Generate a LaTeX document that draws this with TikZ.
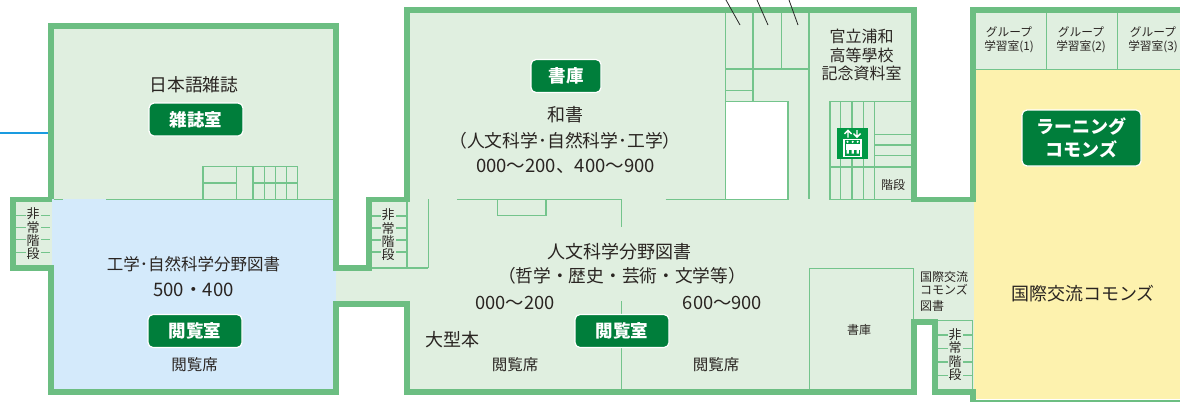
\documentclass[tikz,border=0pt]{standalone}
\usepackage{fontspec}
\setmainfont{Noto Sans CJK JP}
\definecolor{wallc}{HTML}{6CBE82}
\definecolor{linec}{HTML}{74C48C}
\definecolor{roomc}{HTML}{E0EFE0}
\definecolor{bluec}{HTML}{D4EAFB}
\definecolor{yelc}{HTML}{FDF2AE}
\definecolor{badgec}{HTML}{007E3B}
\definecolor{txtc}{HTML}{2A2522}
\definecolor{evc}{HTML}{009944}
\definecolor{routec}{HTML}{1A9BE0}
\newcommand{\fsz}[1]{\fontsize{#1}{#1}\selectfont}
\tikzset{
  wall/.style={fill=wallc},
  thin line/.style={draw=linec,line width=1.35pt},
  lbl/.style={text=txtc,inner sep=0pt,align=center,anchor=center,font=\fsz{16}},
  small/.style={lbl,font=\fsz{12}},
  stairlbl/.style={lbl,font=\fsz{13},fill=roomc,inner xsep=1pt,inner ysep=0pt},
  badge/.style={fill=badgec,draw=white,line width=1.2pt,rounded corners=5pt,inner sep=0pt,anchor=center},
  badgetxt/.style={text=white,inner sep=0pt,align=center,anchor=center,font=\fsz{17.5}\bfseries},
  x=1pt,y=-1pt
}
\begin{document}
\begin{tikzpicture}
\useasboundingbox (0,0) rectangle (1180,402);
\fill[white] (0,0) rectangle (1180,402);
% fills
\fill[roomc] (54,29) rectangle (333,199);
\fill[bluec] (52,199) rectangle (333,389);
\fill[bluec] (333,271) rectangle (336,301);
\fill[roomc] (16,202) rectangle (52,265);
\fill[roomc] (336,271) rectangle (411,301);
\fill[roomc] (372,202) rectangle (411,271);
\fill[roomc] (410,13) rectangle (911,389);
\fill[roomc] (911,202) rectangle (974,319);
\fill[roomc] (937,319) rectangle (974,389);
\fill[roomc] (976,13) rectangle (1180,69);
\fill[yelc] (976,69) rectangle (1180,202);
\fill[yelc] (974,202) rectangle (1180,399);
\fill[white] (726,102) rectangle (788,199);
% route
\draw[routec,line width=2.5pt] (0,133) -- (48,133);
% thin lines: left building
\draw[thin line] (54,199.5) -- (63,199.5) (106,199.5) -- (333,199.5);
\draw[thin line] (203,199.5) -- (203,166.5) -- (297.7,166.5) -- (297.7,199.5);
\draw[thin line] (236.5,166.5) -- (236.5,199.5) (253,166.5) -- (253,199.5) (264.7,166.5) -- (264.7,199.5) (275.7,166.5) -- (275.7,199.5) (286.7,166.5) -- (286.7,199.5);
\draw[thin line] (203,183) -- (236.5,183) (253,183) -- (297.7,183);
\foreach \yy in {215.5,227.5,239.5,252.5} \draw[thin line] (16,\yy) -- (50,\yy);
% thin lines: middle stairs
\foreach \yy in {216,228,240,252} \draw[thin line] (372,\yy) -- (407,\yy);
\draw[thin line] (407,199) -- (407,268) (372,268) -- (428.3,268) (428.3,268) -- (428.3,199);
\draw[thin line] (457.3,199.5) -- (621.7,199.5) -- (621.7,227);
\draw[thin line] (497.3,199.5) -- (497.3,215.7) -- (546,215.7) -- (546,199.5);
\draw[thin line] (665.7,199.5) -- (788,199.5);
\draw[thin line] (621.7,301) -- (621.7,389);
% north-east block
\draw[thin line] (725.5,12) -- (725.5,199.5);
\draw[thin line] (753,12) -- (753,101.5);
\draw[thin line] (781.5,12) -- (781.5,69);
\draw[thin line] (809,12) -- (809,199);
\draw[thin line] (725.5,69) -- (809,69);
\draw[thin line] (725.5,90.5) -- (753,90.5);
\draw[thin line] (725.5,101.5) -- (788,101.5) -- (788,199.5);
% EV stairs
\draw[thin line] (830,199.5) -- (830,101.5) -- (911,101.5);
\draw[thin line] (830,199.5) -- (911,199.5);
\foreach \xx in {840.7,852,863.3,874.7} \draw[thin line] (\xx,101.5) -- (\xx,199.5);
\foreach \yy in {134.5,145,155.5} \draw[thin line] (874.7,\yy) -- (911,\yy);
\draw[thin line] (830,167) -- (911,167);
% stacks room
\draw[thin line] (809.3,389) -- (809.3,268.3) -- (913.3,268.3) -- (913.3,319);
% right stairs
\draw[thin line] (937,320.5) -- (972.7,320.5) -- (972.7,389);
\foreach \yy in {335,348.7,362,375.7} \draw[thin line] (938,\yy) -- (972.7,\yy);
% group rooms
\draw[thin line] (976,69.5) -- (1180,69.5);
\draw[thin line] (1046.7,13) -- (1046.7,69) (1117.7,13) -- (1117.7,69);
% walls
\fill[wall] (48,23) rectangle (339,29);
\fill[wall] (48,23) rectangle (54,199);
\fill[wall] (48,265) rectangle (54,395);
\fill[wall] (48,389) rectangle (339,395);
\fill[wall] (333,23) rectangle (339,271);
\fill[wall] (333,265) rectangle (372,271);
\fill[wall] (333,301) rectangle (339,395);
\fill[wall] (333,301) rectangle (410,307);
\fill[wall] (10,196.5) rectangle (52,202);
\fill[wall] (10,196.5) rectangle (16,271);
\fill[wall] (10,265) rectangle (54,271);
\fill[wall] (366,196.5) rectangle (410,202);
\fill[wall] (366,196.5) rectangle (372,271);
\fill[wall] (404,7) rectangle (410,202);
\fill[wall] (404,7) rectangle (917,13);
\fill[wall] (404,301) rectangle (410,395);
\fill[wall] (404,389) rectangle (917,395);
\fill[wall] (911,7) rectangle (917,202);
\fill[wall] (911,196.5) rectangle (976,202);
\fill[wall] (970,7) rectangle (976,202);
\fill[wall] (970,7) rectangle (1180,13);
\fill[wall] (911,319) rectangle (938,325);
\fill[wall] (911,319) rectangle (917,395);
\fill[wall] (932,319) rectangle (938,395);
\fill[wall] (932,389) rectangle (976,395);
\fill[wall] (970,389) rectangle (976,402);
\fill[wall] (970,399.5) rectangle (1180,402);
% pencil lines
\draw[black!85,line width=.8pt] (726,0) -- (740,25) (757,0) -- (768,25) (789,0) -- (798,25);
% EV icon
\fill[evc] (837,128) rectangle (868,158.7);
\draw[white,line width=1.4pt] (844,139.5) rectangle (861,156.3);
\fill[white] (846,143.5) rectangle (859.5,149.5);
\fill[white] (846.5,149) rectangle (848.8,153.5) (851.5,149) rectangle (853.8,153.5) (856.5,149) rectangle (858.8,153.5);
\fill[white] (847.5,141.8) circle (1.2) (852.7,141.8) circle (1.2) (857.7,141.8) circle (1.2);
\draw[white,line width=1.4pt] (848,137.5) -- (848,131) (844.5,134) -- (848,130.3) -- (851.5,134);
\draw[white,line width=1.4pt] (857,130) -- (857,136.5) (853.5,133.5) -- (857,137.2) -- (860.5,133.5);
% text
\node[lbl,font=\fsz{17.8}] (t1) at (194,85) {日本語雑誌};
\node[badge,minimum width=94pt,minimum height=33pt] (b1) at (196,119.5) {};
\node[badgetxt] (b1t) at (b1.center) {雑誌室};
\node[lbl,font=\fsz{16.5}] (t2) at (193.5,264) {工学･自然科学分野図書};
\node[lbl,font=\fsz{18.6}] (t3) at (193.5,289.5) {500・400};
\node[badge,minimum width=94pt,minimum height=33pt] (b2) at (195,331) {};
\node[badgetxt] (b2t) at (b2.center) {閲覧室};
\node[lbl,font=\fsz{15.5}] (t4) at (194.5,365) {閲覧席};
\node[stairlbl] (s1a) at (33,214) {非};
\node[stairlbl] (s1b) at (33,227.3) {常};
\node[stairlbl] (s1c) at (33,240.7) {階};
\node[stairlbl] (s1d) at (33,254) {段};
\node[stairlbl] (s2a) at (388,215) {非};
\node[stairlbl] (s2b) at (388,228.3) {常};
\node[stairlbl] (s2c) at (388,241.7) {階};
\node[stairlbl] (s2d) at (388,255) {段};
\node[stairlbl] (s3a) at (955,335) {非};
\node[stairlbl] (s3b) at (955,348) {常};
\node[stairlbl] (s3c) at (955,362) {階};
\node[stairlbl] (s3d) at (955,375) {段};
\node[badge,minimum width=70pt,minimum height=33pt] (b3) at (566,76) {};
\node[badgetxt] (b3t) at (b3.center) {書庫};
\node[lbl,font=\fsz{18}] (t5) at (565.5,115) {和書};
\node[lbl,font=\fsz{17.8}] (t6) at (565,141) {（人文科学･自然科学･工学）};
\node[lbl,font=\fsz{18.5}] (t7) at (565.5,166) {000～200、400～900};
\node[lbl,font=\fsz{18}] (t8) at (619,252) {人文科学分野図書};
\node[lbl,font=\fsz{17.7}] (t9) at (622,276) {（哲学・歴史・芸術・文学等）};
\node[lbl,font=\fsz{18.3}] (t10) at (515,303) {000～200};
\node[lbl,font=\fsz{18.3}] (t11) at (722.5,303) {600～900};
\node[lbl,font=\fsz{18}] (t12) at (452,340) {大型本};
\node[badge,minimum width=94pt,minimum height=33pt] (b4) at (622,331) {};
\node[badgetxt] (b4t) at (b4.center) {閲覧室};
\node[lbl,font=\fsz{15.5}] (t13) at (515,365) {閲覧席};
\node[lbl,font=\fsz{15.5}] (t14) at (716,365) {閲覧席};
\node[lbl,font=\fsz{16}] (t15) at (861.5,36) {官立浦和};
\node[lbl,font=\fsz{16}] (t16) at (861.5,55.5) {高等學校};
\node[lbl,font=\fsz{16}] (t17) at (861.5,73.5) {記念資料室};
\node[small] (t18) at (893,185) {階段};
\node[small] (t19) at (859,330) {書庫};
\node[small,anchor=west] (t20) at (920,276.5) {国際交流};
\node[small,anchor=west] (t21) at (920,290) {コモンズ};
\node[small,anchor=west] (t22) at (920,305.5) {図書};
\node[lbl,font=\fsz{11.7}] (g1a) at (1009,31.5) {グループ};
\node[lbl,font=\fsz{11.7}] (g1b) at (1009,47) {学習室(1)};
\node[lbl,font=\fsz{11.7}] (g2a) at (1081,31.5) {グループ};
\node[lbl,font=\fsz{11.7}] (g2b) at (1081,47) {学習室(2)};
\node[lbl,font=\fsz{11.7}] (g3a) at (1153,31.5) {グループ};
\node[lbl,font=\fsz{11.7}] (g3b) at (1153,47) {学習室(3)};
\node[badge,minimum width=119pt,minimum height=56pt] (b5) at (1081.5,138) {};
\node[badgetxt,font=\fsz{18}\bfseries] (b5a) at (1081.5,126) {ラーニング};
\node[badgetxt,font=\fsz{18}\bfseries] (b5b) at (1081.5,149.5) {コモンズ};
\node[lbl,font=\fsz{18}] (t23) at (1083,294) {国際交流コモンズ};
\end{tikzpicture}
\end{document}
